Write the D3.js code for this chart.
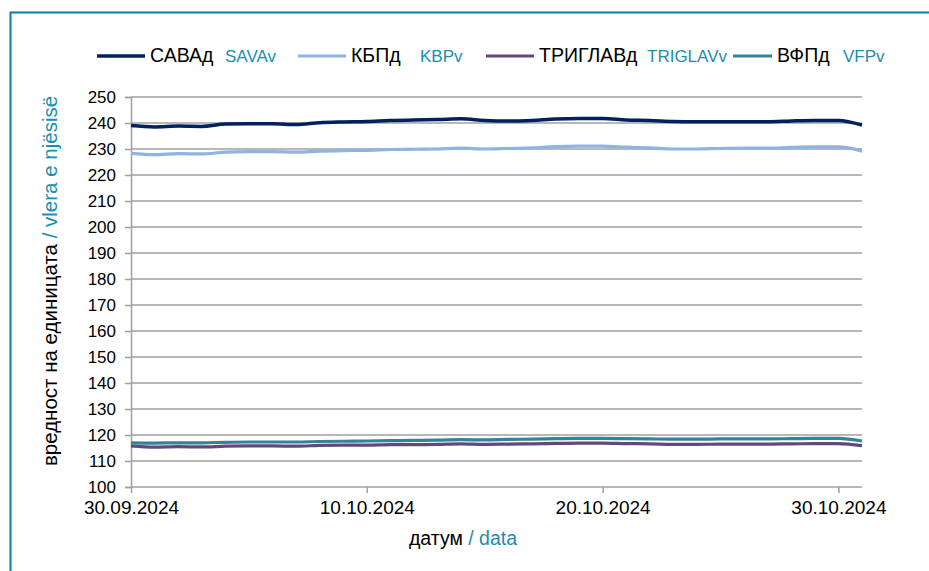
<!DOCTYPE html>
<html>
<head>
<meta charset="utf-8">
<script src="https://cdn.jsdelivr.net/npm/d3@7"></script>
<style>
	html, body { margin: 0; background: #fff; overflow: hidden; }
	svg { display: block; }
	svg text { font-family: "Liberation Sans", Arial, sans-serif; }
</style>
</head>
<body>
<div id="chart"></div>
<script>
// data, one value per day
const dates = [
	"30.09.2024", "01.10.2024", "02.10.2024", "03.10.2024", "04.10.2024", "05.10.2024", "06.10.2024", "07.10.2024",
	"08.10.2024", "09.10.2024", "10.10.2024", "11.10.2024", "12.10.2024", "13.10.2024", "14.10.2024", "15.10.2024",
	"16.10.2024", "17.10.2024", "18.10.2024", "19.10.2024", "20.10.2024", "21.10.2024", "22.10.2024", "23.10.2024",
	"24.10.2024", "25.10.2024", "26.10.2024", "27.10.2024", "28.10.2024", "29.10.2024", "30.10.2024", "31.10.2024"
];
const sava = [239.0, 238.5, 238.8, 238.7, 239.6, 239.7, 239.7, 239.4, 240.1, 240.4, 240.6, 241.0, 241.2, 241.3, 241.6, 241.0,
	240.8, 241.0, 241.5, 241.7, 241.7, 241.2, 241.0, 240.6, 240.5, 240.5, 240.5, 240.5, 240.8, 241.0, 241.0, 239.2];
const kbp = [228.3, 227.8, 228.2, 228.1, 228.8, 229.0, 229.0, 228.8, 229.2, 229.4, 229.5, 229.8, 229.9, 230.0, 230.3, 230.0,
	230.2, 230.4, 230.9, 231.1, 231.1, 230.7, 230.4, 230.0, 230.0, 230.2, 230.3, 230.3, 230.6, 230.8, 230.8, 229.2];
const triglav = [115.8, 115.3, 115.5, 115.4, 115.7, 115.8, 115.8, 115.7, 116.0, 116.1, 116.1, 116.3, 116.3, 116.4, 116.6, 116.4,
	116.5, 116.6, 116.8, 116.9, 116.9, 116.7, 116.6, 116.4, 116.4, 116.5, 116.5, 116.5, 116.6, 116.7, 116.7, 115.9];
const vfp = [117.0, 116.9, 117.0, 117.0, 117.2, 117.3, 117.3, 117.3, 117.5, 117.6, 117.7, 117.8, 117.9, 118.0, 118.2, 118.1,
	118.3, 118.4, 118.6, 118.7, 118.7, 118.6, 118.5, 118.4, 118.4, 118.5, 118.5, 118.5, 118.6, 118.7, 118.7, 117.7];
const xTickLabels = ["30.09.2024", "10.10.2024", "20.10.2024", "30.10.2024"];
const yTicks = [100, 110, 120, 130, 140, 150, 160, 170, 180, 190, 200, 210, 220, 230, 240, 250];

const series = [
	{ mk: "САВАд", sq: "SAVAv", values: sava, color: "#002060", width: 3.5 },
	{ mk: "КБПд", sq: "KBPv", values: kbp, color: "#8db4e2", width: 3.2 },
	{ mk: "ТРИГЛАВд", sq: "TRIGLAVv", values: triglav, color: "#604a7b", width: 3.2 },
	{ mk: "ВФПд", sq: "VFPv", values: vfp, color: "#31849b", width: 3.2 }
];

const W = 929, H = 571;
const teal = "#1a8fb0";
const grid = "#a0a0a0";
const parseDate = d3.timeParse("%d.%m.%Y");
const days = dates.map(parseDate);

const svg = d3.select("#chart").append("svg")
	.attr("width", W)
	.attr("height", H);

// outer frame, runs off the right and bottom edges
svg.append("rect")
	.attr("x", 10.5).attr("y", 12.5)
	.attr("width", W + 60).attr("height", H + 60)
	.attr("fill", "none")
	.attr("stroke", "#0b7fa3")
	.attr("stroke-width", 2);

const x = d3.scaleTime().domain(d3.extent(days)).range([131, 862]);
const y = d3.scaleLinear().domain([100, 250]).range([487, 97]);

// gridlines
svg.append("g")
	.selectAll("line")
	.data(yTicks.filter(v => v > 100))
	.join("line")
	.attr("x1", x.range()[0]).attr("x2", x.range()[1])
	.attr("y1", d => y(d)).attr("y2", d => y(d))
	.attr("stroke", grid)
	.attr("stroke-width", 1.5);

// y axis
const yAxis = svg.append("g")
	.attr("transform", `translate(${x.range()[0]},0)`)
	.call(d3.axisLeft(y).tickValues(yTicks).tickSize(6).tickPadding(9));
yAxis.select(".domain").attr("stroke", grid).attr("stroke-width", 1.5);
yAxis.selectAll(".tick line").attr("stroke", grid).attr("stroke-width", 1.5);
yAxis.selectAll(".tick text").attr("font-size", 17).attr("fill", "#000");

// x axis
const xAxis = svg.append("g")
	.attr("transform", `translate(0,${y.range()[0]})`)
	.call(d3.axisBottom(x)
		.tickValues(xTickLabels.map(parseDate))
		.tickFormat(d3.timeFormat("%d.%m.%Y"))
		.tickSize(6).tickPadding(8));
xAxis.select(".domain").attr("stroke", grid).attr("stroke-width", 1.5)
	.attr("d", `M${x.range()[0]},0H${x.range()[1]}`);
xAxis.selectAll(".tick line").attr("stroke", grid).attr("stroke-width", 1.5);
xAxis.selectAll(".tick text").attr("font-size", 19).attr("fill", "#000");

// series lines
const line = d3.line()
	.x((d, i) => x(days[i]))
	.y(d => y(d))
	.curve(d3.curveMonotoneX);

svg.append("g")
	.selectAll("path")
	.data(series)
	.join("path")
	.attr("d", d => line(d.values))
	.attr("fill", "none")
	.attr("stroke", d => d.color)
	.attr("stroke-width", d => d.width)
	.attr("stroke-linejoin", "round");

// legend (last entry is squeezed in the original)
const legendX = [97, 298, 486, 733];
const legendLen = [48, 48, 48, 39];
const legendSq = [225, 420, 647, 843];
const legend = svg.append("g");
series.forEach((s, i) => {
	legend.append("line")
		.attr("x1", legendX[i]).attr("x2", legendX[i] + legendLen[i])
		.attr("y1", 56).attr("y2", 56)
		.attr("stroke", s.color).attr("stroke-width", s.width);
	legend.append("text")
		.attr("x", legendX[i] + legendLen[i] + 5).attr("y", 62)
		.attr("font-size", 19.5)
		.text(s.mk);
	legend.append("text")
		.attr("x", legendSq[i]).attr("y", 62)
		.attr("font-size", 17)
		.attr("fill", teal)
		.text(s.sq);
});

// axis titles
const yTitle = svg.append("text")
	.attr("transform", "translate(57,281) rotate(-90)")
	.attr("text-anchor", "middle")
	.attr("font-size", 20.5);
yTitle.append("tspan").text("вредност на единицата ");
yTitle.append("tspan").attr("fill", teal).text("/ vlera e njësisë");

const xTitle = svg.append("text")
	.attr("x", 463).attr("y", 545)
	.attr("text-anchor", "middle")
	.attr("font-size", 19.5);
xTitle.append("tspan").text("датум ");
xTitle.append("tspan").attr("fill", teal).text("/ data");
</script>
</body>
</html>
